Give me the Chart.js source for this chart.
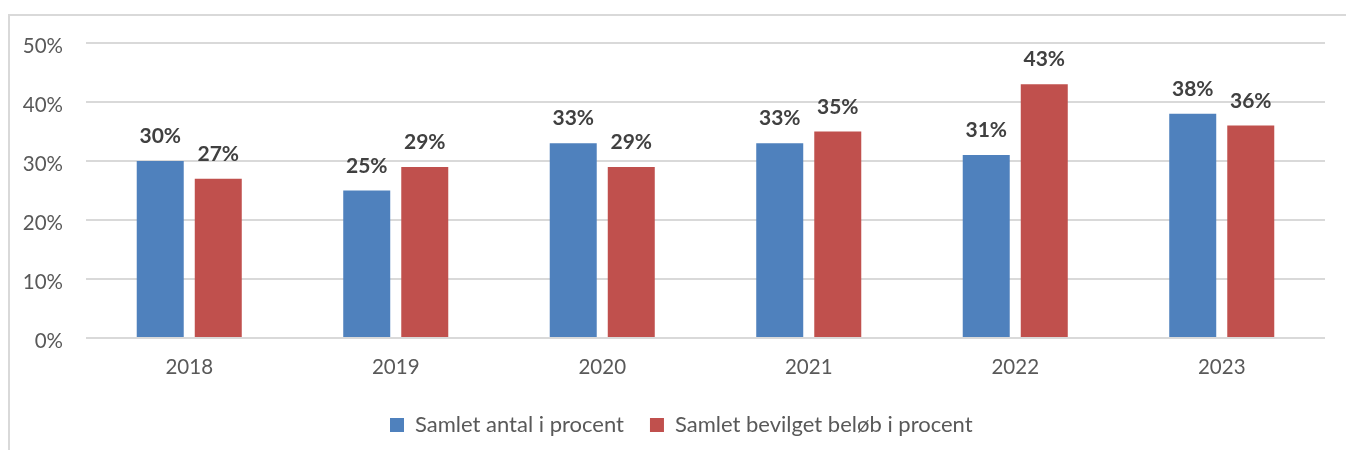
<!DOCTYPE html>
<html>
<head>
<meta charset="utf-8">
<script src="https://cdn.jsdelivr.net/npm/chart.js@4"></script>
<style>
  html, body { margin: 0; padding: 0; background: #ffffff; overflow: hidden; }
  #wrap { position: relative; width: 1346px; height: 450px; }
  canvas { display: block; }
</style>
</head>
<body>
<div id="wrap"><canvas id="c" width="1346" height="450"></canvas></div>
<script>
const categories = ['2018', '2019', '2020', '2021', '2022', '2023'];
const seriesNames = ['Samlet antal i procent', 'Samlet bevilget beløb i procent'];
const antalPct = [30, 25, 33, 33, 31, 38];
const beloebPct = [27, 29, 29, 35, 43, 36];
const yTicks = [0, 10, 20, 30, 40, 50];

const FONT = 'Lato, "Open Sans", sans-serif';

const frame = {
  id: 'frame',
  beforeDraw(chart) {
    const ctx = chart.ctx;
    ctx.save();
    ctx.strokeStyle = '#d9d9d9';
    ctx.lineWidth = 2;
    ctx.beginPath();
    ctx.moveTo(9, 460);
    ctx.lineTo(9, 15);
    ctx.lineTo(1360, 15);
    ctx.stroke();
    ctx.restore();
  }
};

const valueLabels = {
  id: 'valueLabels',
  afterDatasetsDraw(chart) {
    const ctx = chart.ctx;
    ctx.save();
    ctx.font = 'bold 21px ' + FONT;
    ctx.fillStyle = '#404040';
    ctx.textAlign = 'center';
    ctx.textBaseline = 'alphabetic';
    chart.data.datasets.forEach((ds, i) => {
      const meta = chart.getDatasetMeta(i);
      meta.data.forEach((bar, j) => {
        ctx.fillText(ds.data[j] + '%', bar.x, bar.y - 18);
      });
    });
    ctx.restore();
  }
};

const legendShift = {
  id: 'legendShift',
  afterLayout(chart) {
    const lg = chart.legend;
    if (!lg || !lg.lineWidths) return;
    const pad = lg.options.labels.padding;
    const start = (lg.left + pad + lg.right - lg.lineWidths[0]) / 2;
    const dx = 390 - start;
    lg.left += dx; lg.right += dx;
  }
};

new Chart(document.getElementById('c'), {
  type: 'bar',
  data: {
    labels: categories,
    datasets: [
      { label: seriesNames[0], data: antalPct, backgroundColor: '#4f81bd', categoryPercentage: 0.562, barPercentage: 0.81 },
      { label: seriesNames[1], data: beloebPct, backgroundColor: '#c0504d', categoryPercentage: 0.562, barPercentage: 0.81 }
    ]
  },
  options: {
    responsive: false,
    animation: false,
    layout: { padding: { left: 0, right: 21, top: 43, bottom: 4 } },
    scales: {
      x: {
        grid: { display: false },
        border: { display: false },
        ticks: { color: '#595959', font: { family: FONT, size: 20.5 }, padding: 9 },
        afterFit(s) { s.height = 50; }
      },
      y: {
        min: 0, max: 50,
        afterBuildTicks(s) { s.ticks = yTicks.map(v => ({ value: v })); },
        grid: { color: '#d9d9d9', lineWidth: 2, drawTicks: false },
        border: { display: false },
        ticks: { color: '#595959', font: { family: FONT, size: 20.5 }, padding: 23, labelOffset: 3, callback: v => v + '%' },
        afterFit(s) { s.width = 86; }
      }
    },
    plugins: {
      legend: {
        position: 'bottom',
        labels: { color: '#595959', font: { family: FONT, size: 22 }, boxWidth: 14, boxHeight: 14, padding: 26 }
      },
      tooltip: { enabled: false }
    }
  },
  plugins: [frame, valueLabels, legendShift]
});
</script>
</body>
</html>
